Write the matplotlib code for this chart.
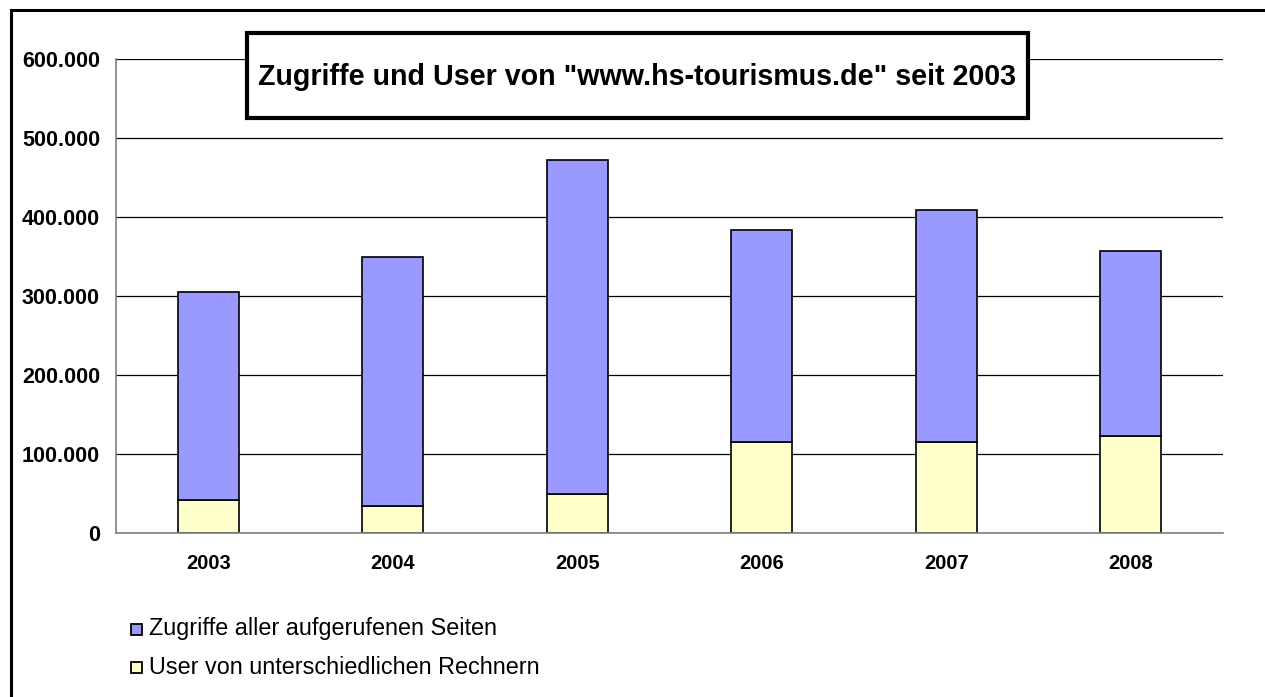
import matplotlib
matplotlib.use("Agg")
import matplotlib.pyplot as plt
from matplotlib.patches import Rectangle
from matplotlib.ticker import FuncFormatter
import numpy as np

years = ["2003", "2004", "2005", "2006", "2007", "2008"]
user = [42000, 34000, 49000, 115000, 115000, 123000]
zugriffe_total = [305000, 349000, 472000, 383000, 409000, 357000]
yticks = [0, 100000, 200000, 300000, 400000, 500000, 600000]
title = 'Zugriffe und User von "www.hs-tourismus.de" seit 2003'
legend_labels = ["Zugriffe aller aufgerufenen Seiten", "User von unterschiedlichen Rechnern"]

plt.rcParams['font.family'] = ['Liberation Sans', 'DejaVu Sans']

W, H = 1265, 697
fig = plt.figure(figsize=(W/100, H/100), dpi=100)
ax = fig.add_axes([116/W, 1-533/H, (1223-116)/W, (533-59)/H])

x = np.arange(len(years))
blue_seg = np.array(zugriffe_total) - np.array(user)
ax.bar(x, user, width=0.33, color="#FFFFCC", edgecolor="black", linewidth=1.2, zorder=3)
ax.bar(x, blue_seg, bottom=user, width=0.33, color="#9999FF", edgecolor="black", linewidth=1.2, zorder=3)

ax.set_xlim(-0.5, len(years)-0.5)
ax.set_ylim(0, 600000)
ax.set_yticks(yticks)
ax.yaxis.set_major_formatter(FuncFormatter(lambda v, p: "0" if v == 0 else f"{int(v):,}".replace(",", ".")))
ax.set_xticks(x)
ax.set_xticklabels(years)
for lab in ax.get_yticklabels():
    lab.set_fontweight("bold")
    lab.set_fontsize(15.5)
for lab in ax.get_xticklabels():
    lab.set_fontweight("bold")
    lab.set_fontsize(14.5)
ax.tick_params(axis="both", length=0)
ax.tick_params(axis="x", pad=15)
ax.tick_params(axis="y", pad=11.5)
ax.grid(axis="y", color="black", linewidth=0.9, zorder=1)
for s in ["top", "right"]:
    ax.spines[s].set_visible(False)
for s in ["left", "bottom"]:
    ax.spines[s].set_color("#808080")
    ax.spines[s].set_linewidth(1.2)
ax.spines["bottom"].set_zorder(4)

# outer frame
fig.patches.append(Rectangle((11/W, -0.05), 1.1, 1-10/H+0.05, transform=fig.transFigure,
                             fill=False, edgecolor="black", linewidth=2.2, clip_on=False))

# title box
fig.patches.append(Rectangle((247/W, 1-118/H), (1028-247)/W, (118-33)/H, transform=fig.transFigure,
                             facecolor="white", edgecolor="black", linewidth=3, zorder=5))
fig.text(637/W, 1-77/H, title, ha="center", va="center", fontsize=20.6, fontweight="bold", zorder=6)

# legend
colors = ["#9999FF", "#FFFFCC"]
ys = [629, 667]
for lbl, c, yy in zip(legend_labels, colors, ys):
    fig.patches.append(Rectangle((131/W, 1-(yy+6)/H), 11/W, 11/H, transform=fig.transFigure,
                                 facecolor=c, edgecolor="black", linewidth=1.3))
    fig.text(149/W, 1-yy/H, lbl, ha="left", va="center", fontsize=16.8)

fig.savefig("out.png", dpi=100)
